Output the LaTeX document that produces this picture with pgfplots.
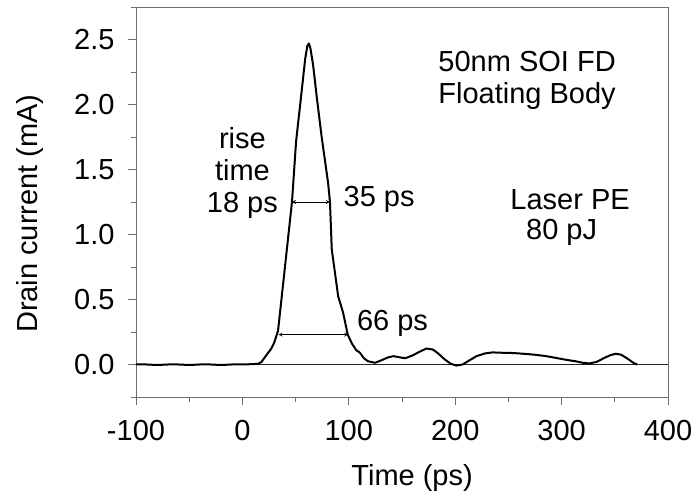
\documentclass[border=0pt]{standalone}
\usepackage{fontspec}
\setmainfont{Liberation Sans}
\usepackage{pgfplots}
\pgfplotsset{compat=1.18}
\definecolor{axgray}{RGB}{110,110,110}
\begin{document}
\begin{tikzpicture}
\begin{axis}[
  scale only axis,
  width=532pt, height=390pt,
  xmin=-100, xmax=400, ymin=-0.25, ymax=2.75,
  xtick={-100,0,...,400},
  minor xtick={-50,50,150,250,350},
  ytick={0,0.5,...,2.5},
  minor ytick={-0.25,0.25,0.75,1.25,1.75,2.25,2.75},
  tick align=outside,
  xtick pos=left, ytick pos=left,
  major tick length=8pt, minor tick length=5pt,
  axis line style={axgray, line width=0.9pt},
  every tick/.style={axgray, line width=0.9pt},
  every minor tick/.style={axgray, line width=0.9pt},
  font=\fontsize{29}{33}\selectfont,
  /pgf/number format/assume math mode=true,
  yticklabel style={xshift=-10pt, /pgf/number format/.cd, fixed, fixed zerofill, precision=1},
  xticklabel style={yshift=-12pt},
  xlabel={Time (ps)},
  ylabel={Drain current (mA)},
  xlabel style={at={(axis description cs:0.519,-0.208)}, anchor=center},
  ylabel style={at={(axis description cs:-0.199,0.47)}, anchor=center},
  clip=false,
]
\coordinate (sw) at (rel axis cs:0,0);
\coordinate (ne) at (rel axis cs:1,1);
\addplot[black!85, line width=0.9pt] coordinates {(-100,0) (400,0)};
\addplot[black, line width=2pt, line join=round] coordinates {
(-100,0) (-90,0.0) (-80,-0.004) (-70,0) (-60,0.0) (-50,-0.004) (-40,0) (-30,0) (-20,-0.004) (-10,0) (0,0)
(10,0.003) (15,0.006) (18,0.02) (23,0.077) (27,0.12) (30,0.17) (33.5,0.26)
(40,0.75) (46.6,1.25) (50.5,1.72) (55,2.05) (59,2.35) (61,2.45) (62.5,2.47) (64,2.43)
(66.5,2.3) (70,2.05) (74.5,1.75) (80.5,1.4) (82.3,1.25) (84,0.885) (88,0.645) (90,0.525)
(94.6,0.4) (99,0.23) (103,0.16) (107,0.11) (110.5,0.09) (114,0.05) (118,0.025) (124.6,0.013)
(130,0.03) (137,0.055) (142,0.064) (148,0.055) (153,0.048) (160,0.07) (167,0.1) (173,0.123)
(179,0.115) (184,0.085) (190,0.04) (196,0.005) (201,-0.008) (207,0.0) (213,0.03) (220,0.064)
(228,0.085) (235,0.093) (245,0.09) (255,0.088) (265,0.082) (275,0.075) (285,0.065) (295,0.05)
(305,0.035) (313,0.025) (320,0.013) (326,0.008) (333,0.02) (340,0.05) (346,0.072) (351,0.083)
(356,0.075) (362,0.045) (367,0.015) (371,0.0)
};
\draw[<->, >=stealth, line width=0.8pt] (axis cs:46.6,1.25) -- (axis cs:82.3,1.25);
\draw[<->, >=stealth, line width=0.8pt] (axis cs:34,0.23) -- (axis cs:99.5,0.23);
\node[align=center, inner sep=0pt, font=\fontsize{29}{32}\selectfont] at (axis cs:0,1.47) {rise\\time\\18 ps};
\node[anchor=west, inner sep=0pt] at (axis cs:95,1.27) {35 ps};
\node[anchor=west, inner sep=0pt] at (axis cs:107.6,0.315) {66 ps};
\node[align=center, inner sep=0pt, font=\fontsize{29}{32}\selectfont] at (axis cs:267.6,2.185) {50nm SOI FD\\Floating Body};
\node[inner sep=0pt] at (axis cs:308,1.27) {Laser PE};
\node[inner sep=0pt] at (axis cs:300,1.02) {80 pJ};
\end{axis}
\pgfresetboundingbox
\path ([xshift=-136pt,yshift=-104pt]sw) rectangle ([xshift=28pt,yshift=7pt]ne);
\end{tikzpicture}
\end{document}
